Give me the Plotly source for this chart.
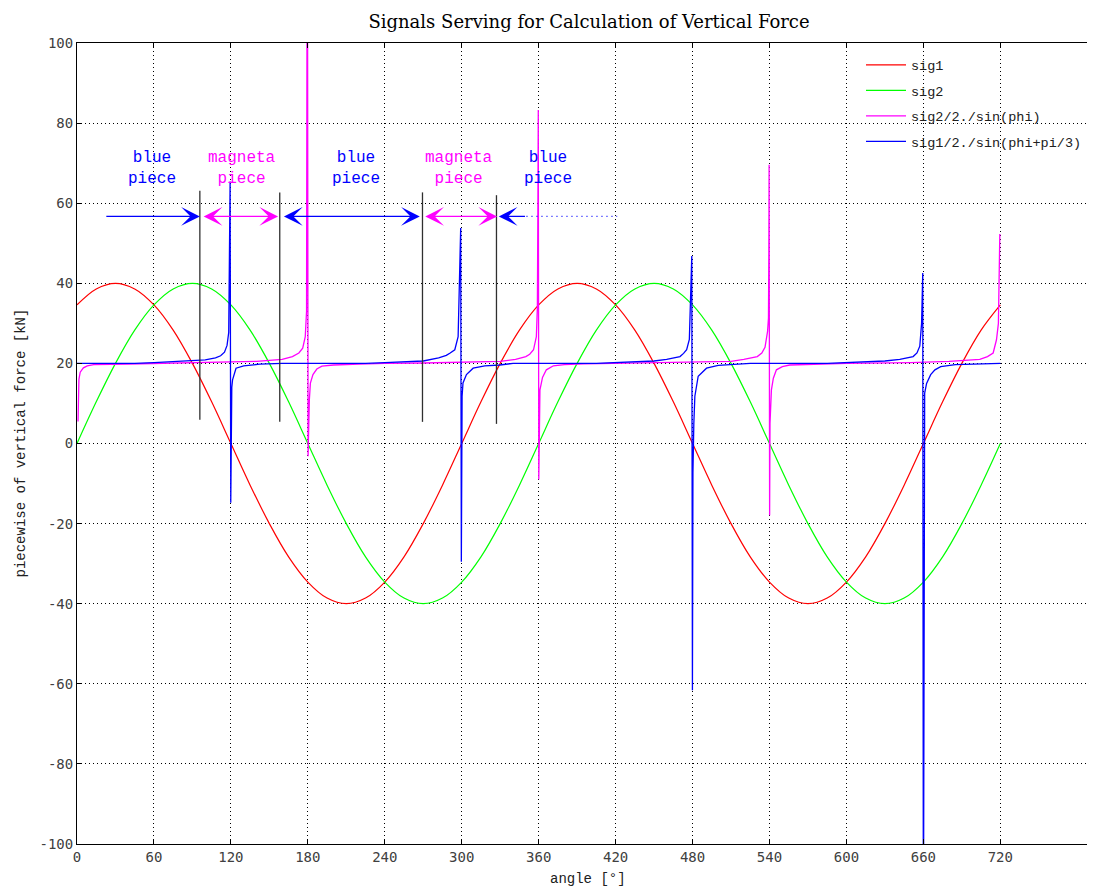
import plotly.graph_objects as go

# ---------------- data ----------------
angle = [0, 15, 30, 45, 60, 75, 90, 105, 120, 135, 150, 165, 180, 195, 210, 225, 240,
         255, 270, 285, 300, 315, 330, 345, 360, 375, 390, 405, 420, 435, 450, 465, 480,
         495, 510, 525, 540, 555, 570, 585, 600, 615, 630, 645, 660, 675, 690, 705, 720]
sig1 = [34.6, 38.6, 40.0, 38.6, 34.6, 28.3, 20.0, 10.4, 0.0, -10.4, -20.0, -28.3, -34.6,
        -38.6, -40.0, -38.6, -34.6, -28.3, -20.0, -10.4, 0.0, 10.4, 20.0, 28.3, 34.6,
        38.6, 40.0, 38.6, 34.6, 28.3, 20.0, 10.4, 0.0, -10.4, -20.0, -28.3, -34.6,
        -38.6, -40.0, -38.6, -34.6, -28.3, -20.0, -10.4, 0.0, 10.4, 20.0, 28.3, 34.6]
sig2 = [0.0, 10.4, 20.0, 28.3, 34.6, 38.6, 40.0, 38.6, 34.6, 28.3, 20.0, 10.4, 0.0,
        -10.4, -20.0, -28.3, -34.6, -38.6, -40.0, -38.6, -34.6, -28.3, -20.0, -10.4, 0.0,
        10.4, 20.0, 28.3, 34.6, 38.6, 40.0, 38.6, 34.6, 28.3, 20.0, 10.4, 0.0,
        -10.4, -20.0, -28.3, -34.6, -38.6, -40.0, -38.6, -34.6, -28.3, -20.0, -10.4, 0.0]

mag_x = [0.8, 1.0, 1.5, 2.5, 5, 8, 13, 40, 60, 90, 110, 140, 160, 168, 173, 176, 178,
         179.0, 179.6, 180.2, 180.6, 181.2, 182, 184, 187, 191, 200, 220, 240, 270, 300,
         330, 342, 350, 353, 356, 358.2, 359.0, 359.4, 359.7, 360.1, 360.4, 361, 363,
         366, 371.5, 380, 395, 420, 480, 510, 520, 530.5, 534, 536.5, 538.5, 539.2,
         539.5, 539.7, 540.1, 540.4, 541.5, 543, 545.4, 550, 555.8, 579, 600, 650, 680,
         704, 710, 714.4, 717, 718.5, 719.3, 719.6]
mag_y = [5.5, 12, 16, 17.8, 18.9, 19.4, 19.7, 19.85, 20.0, 20.1, 20.3, 20.5, 21.0, 21.7,
         22.6, 23.8, 26.7, 33, 160, -3.2, 2.7, 11, 15.1, 17.2, 18.6, 19.3, 19.6, 19.8,
         20.0, 20.1, 20.3, 20.5, 21.0, 21.7, 22.3, 23.4, 26.7, 34, 59, 83.3, -9, 2, 13.4,
         16.5, 18.4, 19.4, 19.7, 19.9, 20.0, 20.2, 20.5, 21.0, 21.7, 22.6, 24, 28, 31.3,
         48, 69.6, -17.9, 5, 13.4, 16.3, 18.4, 19.2, 19.6, 19.9, 20.0, 20.2, 20.5, 21.0,
         21.7, 22.6, 25.9, 30, 48, 52.3]

blu_x = [0, 45, 60, 90, 100, 108, 112, 115, 117, 118.3, 119.0, 119.4, 119.9, 120.3,
         120.7, 121.3, 123, 124, 130, 142.5, 160, 225, 240, 270, 282, 288, 291, 294.6,
         297.2, 298.6, 299.2, 299.7, 300.3, 301, 303.7, 308.9, 318, 329.7, 340, 405, 420,
         450, 459.8, 465, 470.2, 473, 475.4, 477.5, 478.8, 479.4, 479.9, 480.3, 481,
         481.8, 484.4, 490.9, 500, 511.7, 525, 585, 600, 630, 641.6, 652, 655, 657.2,
         658.6, 659.2, 659.5, 660.0, 660.4, 661, 662.5, 665.7, 669, 673.5, 685, 699.5, 720]
blu_y = [20.0, 20.0, 20.2, 20.6, 20.9, 21.4, 21.9, 22.8, 24.5, 27.7, 50, 65.4, -14.8,
         10.2, 14, 15.9, 17.8, 18.8, 19.4, 19.8, 20.0, 20.0, 20.2, 20.6, 21.4, 22, 22.6,
         23.4, 26.7, 43, 53.8, -29.5, 11.8, 15.1, 17.2, 18.8, 19.4, 19.6, 20.0, 20.0, 20.2,
         20.6, 21.0, 21.4, 21.7, 22.5, 23.4, 26, 38.8, 46.8, -61.6, -7.3, 5, 11.8, 16.8,
         18.8, 19.5, 19.8, 20.0, 20.0, 20.2, 20.6, 21.0, 21.7, 22.6, 24.3, 30, 36.3, 42.6,
         -130, 0, 12.6, 15, 17.2, 18.4, 19.2, 19.7, 19.9, 20.0]

# annotation layout (data coordinates)
divider_x = [95.8, 158.1, 269.4, 327.1]
divider_top = [63.1, 62.7, 62.7, 62.0]
divider_bottom = [5.9, 5.4, 5.4, 4.9]
arrow_level = 56.7
arrow_from = [21.7, 97.6, 160.2, 270.4, 350.5]
arrow_to = [95.8, 156.8, 267.3, 327.6, 328.9]
arrow_both = [False, True, True, True, False]
arrow_color = ["#0000ff", "#ff00ff", "#0000ff", "#ff00ff", "#0000ff"]
dotted_from, dotted_to = 350.5, 421.2
piece_x = [58.6, 128.7, 217.4, 297.7, 367.4]
piece_text = ["blue<br>piece", "magneta<br>piece", "blue<br>piece", "magneta<br>piece", "blue<br>piece"]
piece_color = ["#0000ff", "#ff00ff", "#0000ff", "#ff00ff", "#0000ff"]
piece_y = 68.6

x_ticks = [0, 60, 120, 180, 240, 300, 360, 420, 480, 540, 600, 660, 720]
y_ticks = [-100, -80, -60, -40, -20, 0, 20, 40, 60, 80, 100]

MONO = "DejaVu Sans Mono"
SLAB = "Liberation Mono"

W, H = 1087, 880          # page body adds 8 px offset
ML, MT, MB = 69, 35, 44
PW, PH = W - ML, H - MT - MB

fig = go.Figure()
fig.add_trace(go.Scatter(x=angle, y=sig1, mode="lines", name="sig1", legendgroup="a",
                         line=dict(color="#ff0000", width=1.2, shape="spline")))
fig.add_trace(go.Scatter(x=angle, y=sig2, mode="lines", name="sig2", legendgroup="b",
                         line=dict(color="#00ff00", width=1.2, shape="spline")))
fig.add_trace(go.Scatter(x=mag_x, y=mag_y, mode="lines", name="sig2/2./sin(phi)", legendgroup="c",
                         line=dict(color="#ff00ff", width=1.3)))
fig.add_trace(go.Scatter(x=blu_x, y=blu_y, mode="lines", name="sig1/2./sin(phi+pi/3)", legendgroup="d",
                         line=dict(color="#0000ff", width=1.3)))

shapes = []
for xv, t, b in zip(divider_x, divider_top, divider_bottom):
    shapes.append(dict(type="line", xref="x", yref="y", x0=xv, x1=xv, y0=b, y1=t,
                       line=dict(color="#303030", width=1.3)))
shapes.append(dict(type="line", xref="x", yref="y", x0=dotted_from, x1=dotted_to,
                   y0=arrow_level, y1=arrow_level, line=dict(color="#0000ff", width=1.2, dash="1px,4px")))

annotations = []
for a, b, both, c in zip(arrow_from, arrow_to, arrow_both, arrow_color):
    annotations.append(dict(x=b, y=arrow_level, ax=a, ay=arrow_level, xref="x", yref="y",
                            axref="x", ayref="y", text="", showarrow=True, arrowhead=3,
                            startarrowhead=3, arrowsize=2.4, startarrowsize=2.4, arrowwidth=1.3,
                            arrowcolor=c, arrowside="end+start" if both else "end",
                            standoff=0, startstandoff=0))
for xv, t, c in zip(piece_x, piece_text, piece_color):
    annotations.append(dict(x=xv, y=piece_y, xref="x", yref="y", text=t, showarrow=False,
                            font=dict(family=SLAB, size=16, color=c), align="center"))

annotations.append(dict(x=(587.5 - 77) / PW, y=(844 - 879) / PH, xref="paper", yref="paper",
                        text="angle [°]", showarrow=False, xanchor="center", yanchor="middle",
                        font=dict(family=SLAB, size=14, color="#202020")))
annotations.append(dict(x=(20 - 77) / PW, y=0.5, xref="paper", yref="paper",
                        text="piecewise of vertical force [kN]", showarrow=False, textangle=-90,
                        xanchor="center", yanchor="middle",
                        font=dict(family=SLAB, size=14, color="#202020")))

grid = dict(showgrid=True, gridcolor="#000000", griddash="1px,3px", gridwidth=1,
            showline=True, linecolor="black", linewidth=1,
            ticks="inside", ticklen=5, tickcolor="black", zeroline=False,
            tickfont=dict(family=MONO, size=14, color="#404040"))

fig.update_layout(
    width=W, height=H,
    margin=dict(l=ML, r=0, t=MT, b=MB, autoexpand=False),
    paper_bgcolor="white", plot_bgcolor="white",
    title=dict(text="Signals Serving for Calculation of Vertical Force",
               x=581 / W, xanchor="center", xref="container",
               y=1 - 14 / H, yanchor="middle",
               font=dict(family="DejaVu Serif", size=18, color="black")),
    showlegend=True,
    legend=dict(x=(861 - 77) / PW, y=1 - 6.5 / PH, xanchor="left", yanchor="top",
                bgcolor="rgba(255,255,255,0)", borderwidth=0, itemwidth=40,
                font=dict(family=SLAB, size=13.5, color="#202020"),
                tracegroupgap=5),
    shapes=shapes,
    annotations=annotations,
    xaxis=dict(range=[0, PW / 1.2824], tickvals=x_ticks, ticktext=[str(v) for v in x_ticks],
               mirror="ticks", **grid),
    yaxis=dict(range=[-100, 100], tickvals=y_ticks, ticktext=[str(v) for v in y_ticks], **grid),
)

fig.write_html("out.html")
